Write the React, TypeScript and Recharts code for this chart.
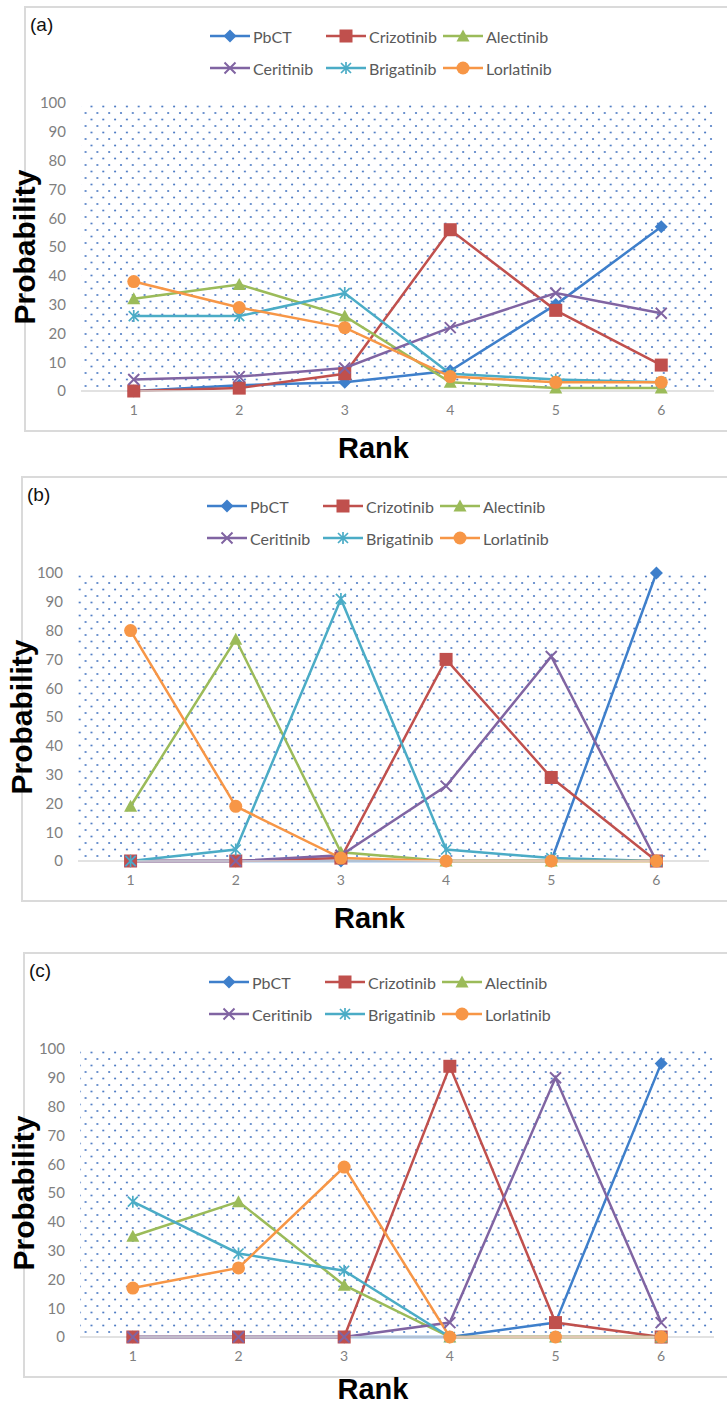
import React from "react";
import { LineChart, Line, XAxis, YAxis, CartesianGrid, Legend } from "recharts";

const ranks = [1, 2, 3, 4, 5, 6];
const yTicks = [0, 10, 20, 30, 40, 50, 60, 70, 80, 90, 100];
const seriesNames = ["PbCT", "Crizotinib", "Alectinib", "Ceritinib", "Brigatinib", "Lorlatinib"];
const seriesColors = ["#3e7fcb", "#c0504d", "#9bbb59", "#8064a2", "#4bacc6", "#f79646"];
const seriesShapes = ["diamond", "square", "triangle", "x", "star", "circle"];

// panel (a)
const pbctA = [0, 2, 3, 7, 30, 57];
const crizotinibA = [0, 1, 6, 56, 28, 9];
const alectinibA = [32, 37, 26, 3, 1, 1];
const ceritinibA = [4, 5, 8, 22, 34, 27];
const brigatinibA = [26, 26, 34, 6, 4, 3];
const lorlatinibA = [38, 29, 22, 5, 3, 3];

// panel (b)
const pbctB = [0, 0, 0, 0, 0, 100];
const crizotinibB = [0, 0, 1, 70, 29, 0];
const alectinibB = [19, 77, 3, 0, 0, 0];
const ceritinibB = [0, 0, 2, 26, 71, 0];
const brigatinibB = [0, 4, 91, 4, 1, 0];
const lorlatinibB = [80, 19, 1, 0, 0, 0];

// panel (c)
const pbctC = [0, 0, 0, 0, 5, 95];
const crizotinibC = [0, 0, 0, 94, 5, 0];
const alectinibC = [35, 47, 18, 0, 0, 0];
const ceritinibC = [0, 0, 0, 5, 90, 5];
const brigatinibC = [47, 29, 23, 0, 0, 0];
const lorlatinibC = [17, 24, 59, 0, 0, 0];

const buildRows = (cols: number[][]) =>
  ranks.map((r, i) => {
    const row: any = { rank: r };
    seriesNames.forEach((n, k) => (row[n] = cols[k][i]));
    return row;
  });

const panels = [
  { id: "a", letter: "(a)", top: 6, left: 24, plotRight: 714, rankY: 67, data: buildRows([pbctA, crizotinibA, alectinibA, ceritinibA, brigatinibA, lorlatinibA]) },
  { id: "b", letter: "(b)", top: 476, left: 21, plotRight: 709, rankY: 67, data: buildRows([pbctB, crizotinibB, alectinibB, ceritinibB, brigatinibB, lorlatinibB]) },
  { id: "c", letter: "(c)", top: 952, left: 23, plotRight: 714, rankY: 62, data: buildRows([pbctC, crizotinibC, alectinibC, ceritinibC, brigatinibC, lorlatinibC]) },
];

const SANS = "'Liberation Sans', Arial, sans-serif";
const SOFT = "Lato, 'Liberation Sans', sans-serif";

function Marker({ shape, cx, cy, color }: { shape: string; cx: number; cy: number; color: string }) {
  if (cx == null || cy == null) return null;
  switch (shape) {
    case "diamond":
      return <path d={`M${cx} ${cy - 6.5}L${cx + 6.5} ${cy}L${cx} ${cy + 6.5}L${cx - 6.5} ${cy}Z`} fill={color} />;
    case "square":
      return <rect x={cx - 6.5} y={cy - 6.5} width={13} height={13} fill={color} />;
    case "triangle":
      return <path d={`M${cx} ${cy - 6.5}L${cx + 6.5} ${cy + 5.5}L${cx - 6.5} ${cy + 5.5}Z`} fill={color} />;
    case "x":
      return (
        <path d={`M${cx - 5.5} ${cy - 5.5}L${cx + 5.5} ${cy + 5.5}M${cx - 5.5} ${cy + 5.5}L${cx + 5.5} ${cy - 5.5}`} stroke={color} strokeWidth={2} fill="none" />
      );
    case "star":
      return (
        <path
          d={`M${cx - 5} ${cy - 5}L${cx + 5} ${cy + 5}M${cx - 5} ${cy + 5}L${cx + 5} ${cy - 5}M${cx} ${cy - 6}L${cx} ${cy + 6}`}
          stroke={color}
          strokeWidth={1.7}
          fill="none"
        />
      );
    default:
      return <circle cx={cx} cy={cy} r={6.5} fill={color} />;
  }
}

const LegendGrid = () => (
  <div style={{ display: "grid", gridTemplateColumns: "116px 117px 120px" }}>
    {seriesNames.map((n, k) => (
      <div key={n} style={{ display: "flex", alignItems: "center", height: 32 }}>
        <svg width={40} height={16} style={{ display: "block" }}>
          <line x1={0} y1={8} x2={40} y2={8} stroke={seriesColors[k]} strokeWidth={2.5} />
          <Marker shape={seriesShapes[k]} cx={20} cy={8} color={seriesColors[k]} />
        </svg>
        <span style={{ marginLeft: 3, fontSize: 16, color: "#595959", fontFamily: SOFT, whiteSpace: "nowrap" }}>{n}</span>
      </div>
    ))}
  </div>
);

function Panel({ p }: { p: (typeof panels)[number] }) {
  const plotLeft = p.left + 57;
  return (
    <>
      <div
        style={{
          position: "absolute",
          top: p.top,
          left: p.left,
          width: 727 - p.left + 10,
          height: 426,
          border: "2px solid #dadada",
          boxSizing: "border-box",
        }}
      />
      <div
        style={{
          position: "absolute",
          top: p.top + 8,
          left: p.left + 6,
          fontFamily: SANS,
          fontSize: 19,
          color: "#111",
          lineHeight: "22px",
        }}
      >
        {p.letter}
      </div>
      <div style={{ position: "absolute", top: p.top, left: 0 }}>
        <LineChart
          width={727}
          height={470}
          data={p.data}
          margin={{ top: 97, right: 727 - p.plotRight, bottom: 10, left: p.left }}
        >
          <defs>
            <pattern id={`dots-${p.id}`} width={11.8} height={13} patternUnits="userSpaceOnUse">
              <circle cx={3} cy={3} r={1.1} fill="#4f7cc4" />
              <circle cx={8.9} cy={9.5} r={1.1} fill="#4f7cc4" />
            </pattern>
          </defs>
          <CartesianGrid horizontal={false} vertical={false} fill={`url(#dots-${p.id})`} />
          <XAxis
            dataKey="rank"
            type="number"
            domain={[0.5, 6.5]}
            ticks={ranks}
            interval={0}
            height={75}
            tickLine={false}
            tickSize={0}
            tickMargin={14}
            axisLine={{ stroke: "#d9d9d9", strokeWidth: 1.5 }}
            tick={{ fill: "#7f7f7f", fontSize: 14, fontFamily: SOFT }}
            label={(lp: any) => {
              const vb = lp.viewBox || {};
              const x = vb.x + vb.width / 2 - 24;
              const y = vb.y + p.rankY;
              return (
                <text x={x} y={y} textAnchor="middle" fontFamily={SANS} fontWeight="bold" fontSize={29} fill="#000">
                  Rank
                </text>
              );
            }}
          />
          <YAxis
            type="number"
            domain={[0, 100]}
            ticks={yTicks}
            interval={0}
            width={plotLeft - p.left}
            tickLine={false}
            tickSize={0}
            tickMargin={15}
            axisLine={false}
            tick={{ fill: "#7f7f7f", fontSize: 15, fontFamily: SOFT }}
            label={(lp: any) => {
              const vb = lp.viewBox || {};
              const x = vb.x;
              const y = vb.y + vb.height / 2;
              return (
                <text
                  x={x}
                  y={y}
                  transform={`rotate(-90 ${x} ${y})`}
                  textAnchor="middle"
                  dominantBaseline="central"
                  fontFamily={SANS}
                  fontWeight="bold"
                  fontSize={30}
                  fill="#000"
                >
                  Probability
                </text>
              );
            }}
          />
          <Legend
            layout="horizontal"
            verticalAlign="middle"
            align="center"
            content={LegendGrid}
            wrapperStyle={{ top: 14, left: p.left + 186, width: 360 }}
          />
          {seriesNames.map((n, k) => (
            <Line
              key={n}
              dataKey={n}
              name={n}
              stroke={seriesColors[k]}
              strokeWidth={2.5}
              activeDot={false}
              isAnimationActive={false}
              dot={(dp: any) => (
                <Marker key={`${n}-${dp.index}`} shape={seriesShapes[k]} cx={dp.cx} cy={dp.cy} color={seriesColors[k]} />
              )}
            />
          ))}
        </LineChart>
      </div>
    </>
  );
}

export default function App() {
  return (
    <div
      style={{
        position: "absolute",
        top: 0,
        left: 0,
        width: 727,
        height: 1407,
        overflow: "hidden",
        background: "#fff",
      }}
    >
      {panels.map((p) => (
        <Panel key={p.id} p={p} />
      ))}
    </div>
  );
}
